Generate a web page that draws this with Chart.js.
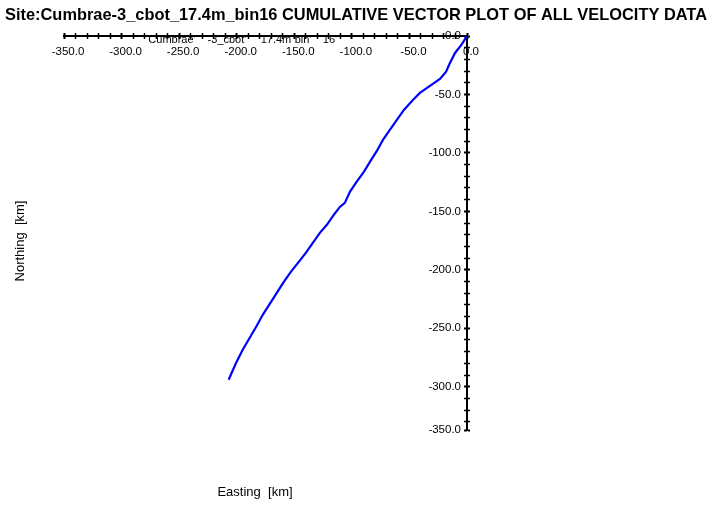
<!DOCTYPE html>
<html><head><meta charset="utf-8">
<script src="https://cdn.jsdelivr.net/npm/chart.js@4"></script>
<style>html,body{margin:0;padding:0;background:#fff;}canvas{display:block;}</style>
</head><body>
<canvas id="c" width="711" height="506"></canvas>
<script>
const titleText = "Site:Cumbrae-3_cbot_17.4m_bin16 CUMULATIVE VECTOR PLOT OF ALL VELOCITY DATA";
const seriesNameParts = ["Cumbrae'", "-3_cbot'", "17.4m", "'bin'", "16'"];
const xAxisTitle = "Easting  [km]";
const yAxisTitle = "Northing  [km]";
const xTickLabels = [-350, -300, -250, -200, -150, -100, -50, 0];
const yTickLabels = [-350, -300, -250, -200, -150, -100, -50, 0];
const easting = [0, -4.3, -10.4, -14.8, -18.3, -23.5, -32.2, -40.9, -47.0, -54.8, -60.9, -67.0, -73.0, -78.3, -84.3, -89.6, -96.5, -101.7, -106.1, -110.4, -115.7, -121.7, -127.8, -133.9, -140.0, -146.1, -153.0, -159.1, -165.2, -171.3, -177.4, -182.6, -188.7, -194.8, -200.9, -207.0];
const northing = [0, -6.8, -14.5, -23.1, -30.8, -36.8, -42.7, -48.7, -54.7, -63.2, -71.8, -80.3, -88.9, -98.3, -107.7, -116.2, -125.6, -133.3, -142.7, -146.2, -153.0, -161.5, -168.4, -176.9, -185.5, -193.2, -201.7, -210.3, -219.7, -229.1, -238.5, -247.9, -258.1, -268.4, -280.3, -294.0];

const X_MIN = -350, X_MAX = 0, Y_MIN = -337, Y_MAX = 0;
const FONT = "'Liberation Sans', Arial, sans-serif";

const textPlugin = {
  id: 'texts',
  afterDraw(chart) {
    const ctx = chart.ctx;
    ctx.save();
    ctx.fillStyle = '#000';
    ctx.textAlign = 'center';
    ctx.textBaseline = 'middle';
    ctx.font = "bold 17px " + FONT;
    ctx.fillText(titleText, 356, 15, 702);
    ctx.font = "11px " + FONT;
    const centers = [172, 227, 276, 302, 330];
    seriesNameParts.forEach((p, i) => ctx.fillText(p, centers[i], 40));
    ctx.font = "13px " + FONT;
    ctx.fillText(xAxisTitle, 255, 492);
    ctx.translate(20, 241);
    ctx.rotate(-Math.PI / 2);
    ctx.fillText(yAxisTitle, 0, 0);
    ctx.restore();
  }
};

function makeTicks(min) {
  const t = [];
  for (let v = Math.ceil(min / 10) * 10; v <= 0; v += 10) t.push({value: v});
  if (t[0].value !== min) t.unshift({value: min});
  return t;
}
const isMajor = (v) => v % 50 === 0 || v === Y_MIN;

const innerTickAxis = (axis, min, max, pos) => ({
  type: 'linear', axis: axis, position: pos, min: min, max: max,
  afterBuildTicks: s => { s.ticks = makeTicks(min); },
  afterFit: s => { if (axis === 'x') s.height = 0; else s.width = 0; },
  grid: {drawOnChartArea: false, drawTicks: true, tickLength: 3, tickColor: '#000',
         tickWidth: c => (c.tick && isMajor(c.tick.value)) ? 2 : 1.5},
  border: {display: false},
  ticks: {display: false, autoSkip: false}
});

new Chart(document.getElementById('c'), {
  type: 'line',
  data: {
    datasets: [{
      label: seriesNameParts.join(' '),
      data: easting.map((x, i) => ({x: x, y: northing[i]})),
      borderColor: '#0000ff',
      borderWidth: 2.2,
      pointRadius: 0,
      tension: 0,
      fill: false
    }]
  },
  plugins: [textPlugin],
  options: {
    responsive: false,
    animation: false,
    devicePixelRatio: 1,
    layout: {padding: {top: 33, left: 64, right: 241, bottom: 76}},
    plugins: {legend: {display: false}, title: {display: false}, tooltip: {enabled: false}},
    scales: {
      x: {
        type: 'linear', position: 'top', min: X_MIN, max: X_MAX,
        afterBuildTicks: s => { s.ticks = makeTicks(X_MIN); },
        afterFit: s => { s.height = 3; },
        grid: {drawOnChartArea: false, drawTicks: true, tickLength: 3, tickColor: '#000',
               tickWidth: c => (c.tick && isMajor(c.tick.value)) ? 2 : 1.5},
        border: {display: true, color: '#000', width: 2},
        ticks: {
          mirror: true, padding: 9, labelOffset: 4, autoSkip: false, maxRotation: 0, color: '#000',
          font: {family: FONT, size: 11.5},
          callback: v => xTickLabels.includes(v) ? v.toFixed(1) : ''
        }
      },
      y: {
        type: 'linear', position: 'right', min: Y_MIN, max: Y_MAX,
        afterBuildTicks: s => { s.ticks = makeTicks(Y_MIN); },
        afterFit: s => { s.width = 3; },
        grid: {drawOnChartArea: false, drawTicks: true, tickLength: 3, tickColor: '#000',
               tickWidth: c => (c.tick && isMajor(c.tick.value)) ? 2 : 1.5},
        border: {display: true, color: '#000', width: 2},
        ticks: {
          mirror: true, padding: -6, autoSkip: false, color: '#000',
          font: {family: FONT, size: 11.5},
          callback: v => v === Y_MIN ? '-350.0' : (yTickLabels.includes(v) ? v.toFixed(1) : '')
        }
      },
      xin: innerTickAxis('x', X_MIN, X_MAX, {y: 0}),
      yin: innerTickAxis('y', Y_MIN, Y_MAX, {x: 0})
    }
  }
});
</script>
</body></html>
